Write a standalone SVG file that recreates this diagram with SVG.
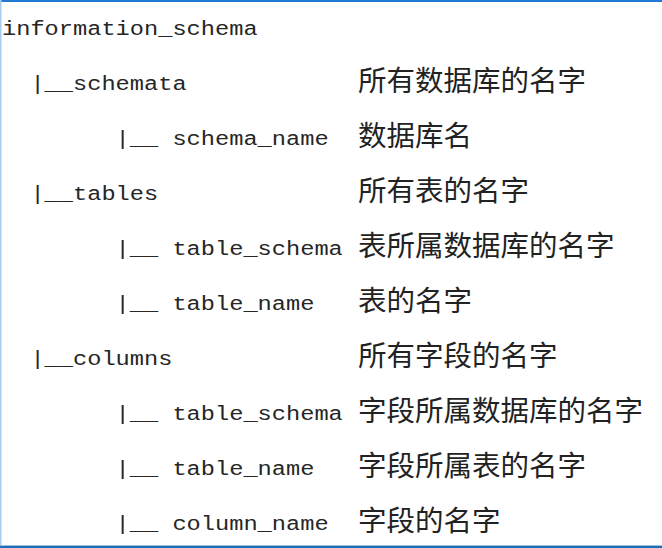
<svg xmlns="http://www.w3.org/2000/svg" width="662" height="548" viewBox="0 0 662 548">
<style>
.m{font-family:"Liberation Mono","DejaVu Sans Mono",monospace;font-size:20px;fill:#262626}
.c{font-family:"Noto Sans CJK SC","Noto Sans",sans-serif;font-size:28.5px;fill:#222222}
</style>
<rect x="0" y="0" width="662" height="548" fill="#ffffff"/>
<g id="border">
<rect x="0" y="0" width="662" height="2" fill="#1f7bd1"/>
<rect x="0" y="0" width="1.5" height="548" fill="#a8cdee"/>
<rect x="0" y="545" width="662" height="1" fill="#9cc3e6"/>
<rect x="0" y="546" width="662" height="2" fill="#1f6fb8"/>
</g>
<g id="row0"><text class="m" x="2" y="35" textLength="255.6" lengthAdjust="spacingAndGlyphs">information_schema</text></g>
<g id="row1"><text class="m" x="30.4" y="90" textLength="156.2" lengthAdjust="spacingAndGlyphs">|__schemata</text><text class="c" x="358" y="91">所有数据库的名字</text></g>
<g id="row2"><text class="m" x="115.6" y="145" textLength="213" lengthAdjust="spacingAndGlyphs">|__ schema_name</text><text class="c" x="358" y="146">数据库名</text></g>
<g id="row3"><text class="m" x="30.4" y="200" textLength="127.8" lengthAdjust="spacingAndGlyphs">|__tables</text><text class="c" x="358" y="201">所有表的名字</text></g>
<g id="row4"><text class="m" x="115.6" y="255" textLength="227.2" lengthAdjust="spacingAndGlyphs">|__ table_schema</text><text class="c" x="358" y="256">表所属数据库的名字</text></g>
<g id="row5"><text class="m" x="115.6" y="310" textLength="198.8" lengthAdjust="spacingAndGlyphs">|__ table_name</text><text class="c" x="358" y="311">表的名字</text></g>
<g id="row6"><text class="m" x="30.4" y="365" textLength="142" lengthAdjust="spacingAndGlyphs">|__columns</text><text class="c" x="358" y="366">所有字段的名字</text></g>
<g id="row7"><text class="m" x="115.6" y="420" textLength="227.2" lengthAdjust="spacingAndGlyphs">|__ table_schema</text><text class="c" x="358" y="421">字段所属数据库的名字</text></g>
<g id="row8"><text class="m" x="115.6" y="475" textLength="198.8" lengthAdjust="spacingAndGlyphs">|__ table_name</text><text class="c" x="358" y="476">字段所属表的名字</text></g>
<g id="row9"><text class="m" x="115.6" y="530" textLength="213" lengthAdjust="spacingAndGlyphs">|__ column_name</text><text class="c" x="358" y="531">字段的名字</text></g>
<g id="connectors"></g>
</svg>
